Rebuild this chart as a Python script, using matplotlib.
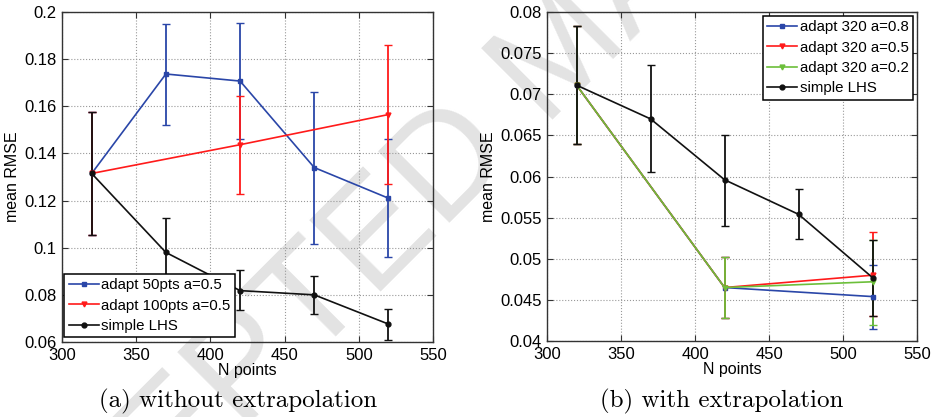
import numpy as np
import matplotlib
matplotlib.use("Agg")
import matplotlib.pyplot as plt
from matplotlib.lines import Line2D
from matplotlib.ticker import FuncFormatter

plt.rcParams['font.family'] = ['Liberation Sans', 'DejaVu Sans']

# ---- (a) without extrapolation ----
a_x_blue = [320, 370, 420, 470, 520]
a_y_blue = [0.1315, 0.1737, 0.1707, 0.134, 0.121]
a_hi_blue = [0.1577, 0.195, 0.1955, 0.166, 0.146]
a_lo_blue = [0.1055, 0.152, 0.146, 0.1017, 0.0959]

a_x_red = [320, 420, 520]
a_y_red = [0.1315, 0.1437, 0.1565]
a_hi_red = [0.1577, 0.1645, 0.186]
a_lo_red = [0.1055, 0.1228, 0.127]

a_x_black = [320, 370, 420, 470, 520]
a_y_black = [0.1315, 0.098, 0.0818, 0.080, 0.0676]
a_hi_black = [0.1577, 0.1124, 0.0905, 0.0879, 0.0741]
a_lo_black = [0.1055, 0.0835, 0.0735, 0.0719, 0.0608]

a_labels = ['adapt 50pts a=0.5', 'adapt 100pts a=0.5', 'simple LHS']

# ---- (b) with extrapolation ----
b_x_adapt = [320, 420, 520]
b_y_blue = [0.0711, 0.0465, 0.0454]
b_hi_blue = [0.0783, 0.0502, 0.0492]
b_lo_blue = [0.0639, 0.0428, 0.0415]

b_y_red = [0.0711, 0.0465, 0.0480]
b_hi_red = [0.0783, 0.0502, 0.0532]
b_lo_red = [0.0639, 0.0428, 0.0431]

b_y_green = [0.0711, 0.0465, 0.0472]
b_hi_green = [0.0783, 0.0502, 0.0523]
b_lo_green = [0.0639, 0.0428, 0.0419]

b_x_black = [320, 370, 420, 470, 520]
b_y_black = [0.0711, 0.0670, 0.0596, 0.0554, 0.0477]
b_hi_black = [0.0783, 0.0735, 0.0651, 0.0585, 0.0523]
b_lo_black = [0.0639, 0.0605, 0.0540, 0.0524, 0.0431]

b_labels = ['adapt 320 a=0.8', 'adapt 320 a=0.5', 'adapt 320 a=0.2', 'simple LHS']

blue = '#2a46a8'
red = '#ff1a1a'
green = '#6cbf3a'
black = '#111111'


def draw(ax, x, y, hi, lo, color, marker):
    y = np.array(y)
    err = [y - np.array(lo), np.array(hi) - y]
    ax.errorbar(x, y, yerr=err, color=color, marker=marker, markersize=3.5,
                linewidth=1.2, elinewidth=1.3, capsize=3, capthick=1.3,
                markeredgewidth=1.0)
    return Line2D([], [], color=color, marker=marker, markersize=3.5,
                  linewidth=1.2, markeredgewidth=1.0)


def style(ax, ylim, yticks):
    ax.set_facecolor('none')
    ax.set_xlim(300, 550)
    ax.set_ylim(*ylim)
    ax.set_xticks(np.arange(300, 551, 50))
    ax.set_yticks(yticks)
    ax.yaxis.set_major_formatter(FuncFormatter(lambda v, p: '%g' % round(v, 4)))
    ax.grid(True, linestyle=':', color='#999999', linewidth=0.8)
    ax.tick_params(direction='in', length=4, labelsize=12, top=True, right=True,
                   color='#333333', pad=4)
    for s in ax.spines.values():
        s.set_color('#333333')
        s.set_linewidth(1.0)
    ax.set_xlabel('N points', fontsize=11.5, labelpad=0)
    ax.set_ylabel('mean RMSE', fontsize=11.5, labelpad=3)


def legend(ax, handles, labels, loc, anchor):
    leg = ax.legend(handles, labels, loc=loc, bbox_to_anchor=anchor, fontsize=10.8,
                    numpoints=1, fancybox=False, framealpha=1, edgecolor='black',
                    handlelength=2.0, handletextpad=0.15, labelspacing=0.42,
                    borderpad=0.3, borderaxespad=0)
    leg.get_frame().set_linewidth(1.1)


fig = plt.figure(figsize=(9.33, 4.17), dpi=100)
fig.patch.set_facecolor('white')

# watermark behind the axes
fig.text(-0.078, 1 - 691 / 417, 'ACCEPTED MANUSCRIPT', fontsize=105, color='#e3e3e3',
         rotation=45, rotation_mode='anchor', ha='left', va='center', zorder=-1,
         family='Liberation Sans')

ax1 = fig.add_axes([62 / 933, 1 - 342 / 417, 371 / 933, 330 / 417])
h1 = [draw(ax1, a_x_blue, a_y_blue, a_hi_blue, a_lo_blue, blue, 's'),
      draw(ax1, a_x_red, a_y_red, a_hi_red, a_lo_red, red, 'v'),
      draw(ax1, a_x_black, a_y_black, a_hi_black, a_lo_black, black, 'o')]
style(ax1, (0.06, 0.2), np.arange(0.06, 0.2001, 0.02))
legend(ax1, h1, a_labels, 'lower left', (0.006, 0.014))

ax2 = fig.add_axes([547 / 933, 1 - 341 / 417, 370 / 933, 329 / 417])
h2 = [draw(ax2, b_x_adapt, b_y_blue, b_hi_blue, b_lo_blue, blue, 's'),
      draw(ax2, b_x_adapt, b_y_red, b_hi_red, b_lo_red, red, 'v'),
      draw(ax2, b_x_adapt, b_y_green, b_hi_green, b_lo_green, green, 'v'),
      draw(ax2, b_x_black, b_y_black, b_hi_black, b_lo_black, black, 'o')]
style(ax2, (0.04, 0.08), np.arange(0.04, 0.08001, 0.005))
legend(ax2, h2, b_labels, 'upper right', (0.989, 0.988))

fig.text(238 / 933, 1 - 401 / 417, '(a) without extrapolation', fontsize=18,
         family='cmr10', ha='center', va='center')
fig.text(722 / 933, 1 - 401 / 417, '(b) with extrapolation', fontsize=18,
         family='cmr10', ha='center', va='center')

fig.savefig('out.png', dpi=100)
